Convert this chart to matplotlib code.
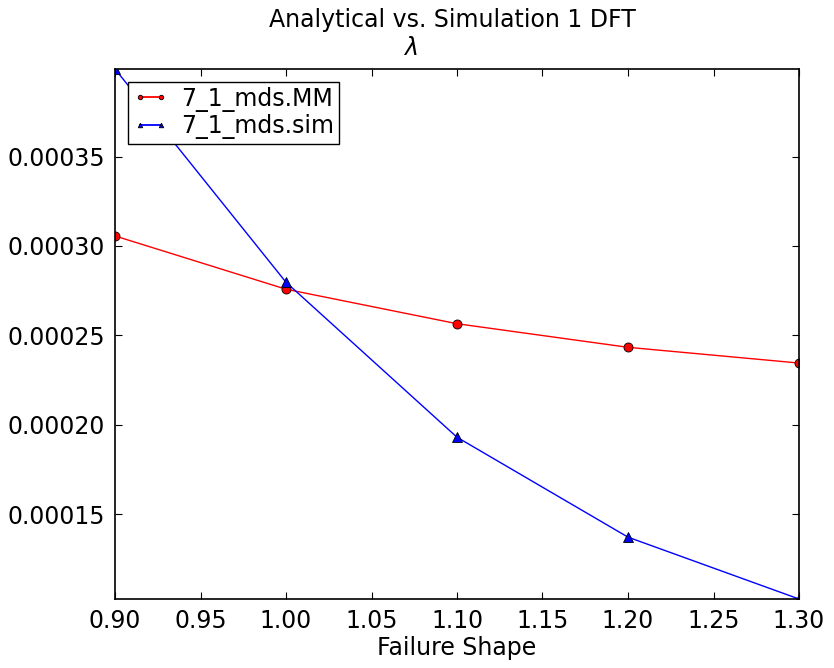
import matplotlib
matplotlib.use("Agg")
import matplotlib.pyplot as plt

shape = [0.9, 1.0, 1.1, 1.2, 1.3]
mm_vals = [0.0003056, 0.0002758, 0.0002565, 0.0002433, 0.0002345]
sim_vals = [0.000399, 0.0002797, 0.0001930, 0.0001371, 0.0001025]
xticks = [0.90, 0.95, 1.00, 1.05, 1.10, 1.15, 1.20, 1.25, 1.30]
yticks = [0.00015, 0.00020, 0.00025, 0.00030, 0.00035]

fs = 17
fig = plt.figure(figsize=(8.34, 6.68), dpi=100)
ax = fig.add_axes([115/834, 1-599/668, (799-115)/834, (599-69)/668])
ax.plot(shape, mm_vals, color='red', marker='o', markersize=6.5, markeredgecolor='black',
        markeredgewidth=0.6, lw=1.0, label='7_1_mds.MM')
ax.plot(shape, sim_vals, color='blue', marker='^', markersize=6.5, markeredgecolor='black',
        markeredgewidth=0.6, lw=1.0, label='7_1_mds.sim')
ax.set_xlim(0.9, 1.3)
ax.set_ylim(min(sim_vals), max(sim_vals))
ax.set_xticks(xticks)
ax.set_xticklabels([f"{t:.2f}" for t in xticks])
ax.set_yticks(yticks)
ax.set_yticklabels([f"{t:.5f}" for t in yticks])
ax.tick_params(direction='in', top=True, right=True, labelsize=fs, length=5, width=0.8, pad=7)
for s in ax.spines.values():
    s.set_linewidth(1.2)
ax.set_xlabel('Failure Shape', fontsize=fs, labelpad=2)
fig.text(452/834, 1-20/668, 'Analytical vs. Simulation 1 DFT', ha='center', va='center', fontsize=fs)
fig.text(410/834, 1-48/668, r'$\lambda$', ha='center', va='center', fontsize=fs)
leg = ax.legend(loc='upper left', fontsize=fs, markerscale=0.5, numpoints=2, fancybox=False,
                framealpha=1, edgecolor='black', borderpad=0.2, labelspacing=0.1,
                handlelength=1.5, handletextpad=0.55, borderaxespad=0.55)
leg.get_frame().set_linewidth(1.0)
for line in leg.get_lines():
    line.set_linewidth(1.3)
fig.savefig('out.png', dpi=100)
